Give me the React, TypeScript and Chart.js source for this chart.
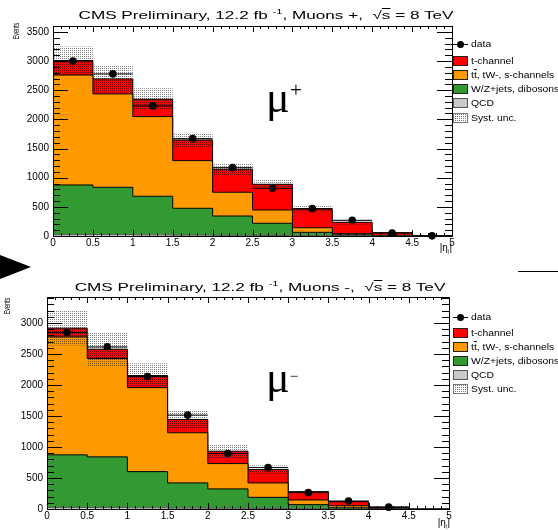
import React, { useEffect, useRef } from "react";
import { Chart, registerables } from "chart.js";

Chart.register(...registerables);

// ---------- data ----------
const binEdges = [0, 0.5, 1, 1.5, 2, 2.5, 3, 3.5, 4, 4.5, 5];
const xTickStep = 0.5;

// muons +
const qcdPlus = [25, 25, 20, 15, 12, 10, 5, 2, 1, 0];
const wzPlus = [850, 810, 661, 460, 331, 208, 58, 18, 4, 0];
const ttPlus = [1885, 1601, 1366, 817, 407, 228, 79, 20, 5, 0];
const tchPlus = [247, 257, 298, 355, 394, 441, 321, 195, 47, 0];
const systPlus = [240, 235, 188, 125, 103, 73, 57, 39, 6, 0];
const dataPlus: (number | null)[] = [3000, 2779, 2230, 1669, 1172, 818, 470, 269, 51, 3];
const yMaxPlus = 3600;
const yTicksPlus = [0, 500, 1000, 1500, 2000, 2500, 3000, 3500];

// muons -
const qcdMinus = [25, 25, 20, 15, 12, 10, 5, 2, 1, 0];
const wzMinus = [849, 816, 583, 406, 312, 178, 65, 18, 4, 0];
const ttMinus = [1903, 1586, 1355, 809, 409, 233, 76, 33, 7, 0];
const tchMinus = [140, 151, 194, 215, 199, 215, 134, 65, 20, 0];
const systMinus = [280, 270, 199, 146, 108, 69, 20, 10, 3, 0];
const dataMinus: (number | null)[] = [2848, 2615, 2136, 1515, 895, 668, 264, 129, 30, null];
const yMaxMinus = 3420;
const yTicksMinus = [0, 500, 1000, 1500, 2000, 2500, 3000];

const legendLabels = ["data", "t-channel", "tt, tW-, s-channels", "W/Z+jets, dibosons", "QCD", "Syst. unc."];

const COL = { tch: "#ff0000", tt: "#ff9900", wz: "#339933", qcd: "#c8c8c8" };
const SANS = '"Liberation Sans", Arial, sans-serif';
const SERIF = '"Liberation Serif", "Times New Roman", serif';

function dotPattern(): CanvasPattern {
  const c = document.createElement("canvas");
  c.width = 2;
  c.height = 2;
  const g = c.getContext("2d")!;
  g.fillStyle = "rgba(0,0,0,0.5)";
  g.fillRect(0, 0, 1, 1);
  return g.createPattern(c, "repeat")!;
}

const rootFrame = {
  id: "rootFrame",
  afterDraw(chart: any) {
    const { ctx, chartArea: a, scales } = chart;
    const x = scales.x;
    const y = scales.y;
    ctx.save();
    ctx.strokeStyle = "#000";
    ctx.lineWidth = 1;
    ctx.beginPath();
    const k0 = Math.round(x.min * 10);
    const k1 = Math.round(x.max * 10);
    for (let k = k0; k <= k1; k++) {
      const px = Math.round(x.getPixelForValue(k / 10)) + 0.5;
      const len = k % 5 === 0 ? 6 : 3;
      ctx.moveTo(px, a.bottom);
      ctx.lineTo(px, a.bottom - len);
      ctx.moveTo(px, a.top);
      ctx.lineTo(px, a.top + len);
    }
    for (let v = 0; v <= y.max; v += 100) {
      const py = Math.round(y.getPixelForValue(v)) + 0.5;
      const len = v % 500 === 0 ? 15 : 7;
      ctx.moveTo(a.left, py);
      ctx.lineTo(a.left + len, py);
      ctx.moveTo(a.right, py);
      ctx.lineTo(a.right - len, py);
    }
    ctx.stroke();
    ctx.strokeRect(Math.round(a.left) + 0.5, Math.round(a.top) + 0.5, Math.round(a.right - a.left), Math.round(a.bottom - a.top));
    ctx.restore();
  },
};

type HistProps = {
  qcd: number[];
  wz: number[];
  tt: number[];
  tch: number[];
  syst: number[];
  data: (number | null)[];
  yMax: number;
  yTicks: number[];
  axisWidth: number;
  padding: { left: number; top: number; right: number; bottom: number };
  top: number;
};

function HistPanel(p: HistProps) {
  const ref = useRef<HTMLCanvasElement>(null);
  useEffect(() => {
    const stepPts = (vals: number[]) =>
      binEdges.map((e, i) => ({ x: e, y: vals[Math.min(i, vals.length - 1)] }));
    const total = p.tch.map((_, i) => p.qcd[i] + p.wz[i] + p.tt[i] + p.tch[i]);
    const lo = total.map((t, i) => t - p.syst[i]);
    const hi = total.map((t, i) => t + p.syst[i]);
    const dataPts = p.data.map((d, i) => ({ x: (binEdges[i] + binEdges[i + 1]) / 2, y: d }));
    const errPts: { x: number; y: number | null }[] = [];
    p.data.forEach((d, i) => {
      if (d == null) return;
      errPts.push({ x: binEdges[i], y: d }, { x: binEdges[i + 1], y: d }, { x: binEdges[i + 1], y: null });
    });
    const comps = [
      { label: "QCD", vals: p.qcd, color: COL.qcd, line: "#555" },
      { label: "W/Z+jets, dibosons", vals: p.wz, color: COL.wz, line: "#000" },
      { label: "tt, tW-, s-channels", vals: p.tt, color: COL.tt, line: "#000" },
      { label: "t-channel", vals: p.tch, color: COL.tch, line: "#000" },
    ];
    const datasets: any[] = comps.map((c, i) => ({
      label: c.label,
      data: stepPts(c.vals),
      stepped: true,
      fill: i === 0 ? "origin" : "-1",
      backgroundColor: c.color,
      borderColor: c.line,
      borderWidth: 1,
      pointRadius: 0,
      stack: "mc",
      order: 4,
    }));
    datasets.push({
      label: "syst-lo",
      data: stepPts(lo),
      stepped: true,
      fill: false,
      borderColor: "transparent",
      borderWidth: 1,
      pointRadius: 0,
      stack: "lo",
      order: 2,
    });
    datasets.push({
      label: "Syst. unc.",
      data: stepPts(hi),
      stepped: true,
      fill: "-1",
      backgroundColor: dotPattern(),
      borderColor: "transparent",
      borderWidth: 1,
      pointRadius: 0,
      stack: "hi",
      order: 2,
    });
    datasets.push({
      label: "data-err",
      data: errPts,
      fill: false,
      spanGaps: false,
      borderColor: "#000",
      borderWidth: 1,
      pointRadius: 0,
      stack: "err",
      order: 1,
      clip: false,
    });
    datasets.push({
      label: "data",
      data: dataPts,
      showLine: false,
      fill: false,
      pointRadius: 3.8,
      pointBackgroundColor: "#000",
      pointBorderColor: "#000",
      pointBorderWidth: 0,
      stack: "data",
      order: 0,
      clip: false,
    });

    const chart = new Chart(ref.current!, {
      type: "line",
      data: { datasets },
      options: {
        animation: false,
        responsive: false,
        maintainAspectRatio: false,
        events: [],
        layout: { padding: p.padding },
        plugins: { legend: { display: false }, title: { display: false }, tooltip: { enabled: false } },
        scales: {
          x: {
            type: "linear",
            min: 0,
            max: 5,
            offset: false,
            grid: { display: false, drawTicks: false },
            border: { display: false },
            ticks: {
              stepSize: xTickStep,
              autoSkip: false,
              maxRotation: 0,
              padding: 1,
              color: "#000",
              font: { family: SANS, size: 10 },
              callback: (v: any) => String(v),
            },
            afterFit: (s: any) => {
              s.height = 20;
            },
          },
          y: {
            type: "linear",
            stacked: true,
            min: 0,
            max: p.yMax,
            grid: { display: false, drawTicks: false },
            border: { display: false },
            ticks: {
              autoSkip: false,
              padding: 4,
              color: "#000",
              font: { family: SANS, size: 10 },
              callback: (v: any) => String(v),
            },
            afterBuildTicks: (s: any) => {
              s.ticks = p.yTicks.map((v) => ({ value: v }));
            },
            afterFit: (s: any) => {
              s.width = p.axisWidth;
            },
          },
        },
      } as any,
      plugins: [rootFrame],
    });
    return () => chart.destroy();
  }, []);
  return (
    <canvas
      ref={ref}
      width={558}
      height={265}
      style={{ position: "absolute", left: 0, top: p.top, width: 558, height: 265 }}
    />
  );
}

function Title({ cx, top, sign }: { cx: number; top: number; sign: string }) {
  return (
    <div
      style={{
        position: "absolute",
        left: cx,
        top,
        transform: "translateX(-50%) scaleX(1.49)",
        transformOrigin: "center",
        whiteSpace: "nowrap",
        font: `11.5px ${SANS}`,
        lineHeight: 1,
        color: "#000",
      }}
    >
      CMS Preliminary, 12.2 fb{" "}
      <span style={{ fontSize: "7.5px", position: "relative", top: -5 }}>-1</span>, Muons {sign},&nbsp; √
      <span style={{ textDecoration: "overline" }}>s</span> = 8 TeV
    </div>
  );
}

function Legend({ rows }: { rows: number[] }) {
  const box = (y: number, bg: string, extra: any = {}) => (
    <div
      style={{
        position: "absolute",
        left: 453,
        top: y - 5,
        width: 15,
        height: 10,
        boxSizing: "border-box",
        border: "1px solid #222",
        background: bg,
        ...extra,
      }}
    />
  );
  const text = (y: number, content: any) => (
    <div
      style={{
        position: "absolute",
        left: 471,
        top: y - 5,
        font: `9px ${SANS}`,
        lineHeight: "10px",
        whiteSpace: "nowrap",
        transform: "scaleX(1.15)",
        transformOrigin: "left center",
        color: "#000",
      }}
    >
      {content}
    </div>
  );
  return (
    <>
      <div style={{ position: "absolute", left: 453, top: rows[0], width: 15, height: 1, background: "#000" }} />
      <div
        style={{
          position: "absolute",
          left: 457,
          top: rows[0] - 3,
          width: 7,
          height: 7,
          borderRadius: "50%",
          background: "#000",
        }}
      />
      {text(rows[0], legendLabels[0])}
      {box(rows[1], COL.tch)}
      {text(rows[1], legendLabels[1])}
      {box(rows[2], COL.tt)}
      {text(
        rows[2],
        <>
          t<span style={{ textDecoration: "overline" }}>t</span>, tW-, s-channels
        </>
      )}
      {box(rows[3], COL.wz)}
      {text(rows[3], legendLabels[3])}
      {box(rows[4], COL.qcd, { border: "1px solid #555" })}
      {text(rows[4], legendLabels[4])}
      {box(rows[5], "#fff", {
        border: "1px solid #777",
        backgroundImage: "conic-gradient(#777 0 25%, transparent 0)",
        backgroundSize: "2px 2px",
      })}
      {text(rows[5], legendLabels[5])}
    </>
  );
}

function EventsLabel({ cx, cy }: { cx: number; cy: number }) {
  return (
    <div
      style={{
        position: "absolute",
        left: cx,
        top: cy,
        transform: "translate(-50%, -50%) rotate(-90deg) scaleX(0.6)",
        font: `9px ${SANS}`,
        lineHeight: 1,
        whiteSpace: "nowrap",
        color: "#000",
      }}
    >
      Events
    </div>
  );
}

function EtaLabel({ right, top }: { right: number; top: number }) {
  return (
    <div
      style={{
        position: "absolute",
        right: 558 - right,
        top,
        font: `10px ${SANS}`,
        lineHeight: 1,
        whiteSpace: "nowrap",
        color: "#000",
      }}
    >
      |η<span style={{ fontSize: "6.5px", position: "relative", top: 3, color: "#555" }}>l</span>|
    </div>
  );
}

export default function App() {
  return (
    <div
      style={{
        position: "absolute",
        left: 0,
        top: 0,
        width: 558,
        height: 530,
        overflow: "hidden",
        background: "#fff",
      }}
    >
      <HistPanel
        qcd={qcdPlus}
        wz={wzPlus}
        tt={ttPlus}
        tch={tchPlus}
        syst={systPlus}
        data={dataPlus}
        yMax={yMaxPlus}
        yTicks={yTicksPlus}
        axisWidth={53}
        padding={{ left: 0, top: 26, right: 106, bottom: 9 }}
        top={0}
      />
      <HistPanel
        qcd={qcdMinus}
        wz={wzMinus}
        tt={ttMinus}
        tch={tchMinus}
        syst={systMinus}
        data={dataMinus}
        yMax={yMaxMinus}
        yTicks={yTicksMinus}
        axisWidth={47}
        padding={{ left: 0, top: 32, right: 109, bottom: 1 }}
        top={265}
      />
      <Title cx={265.5} top={10} sign="+" />
      <Title cx={260} top={281.5} sign="-" />
      <Legend rows={[44, 60.5, 74.5, 88.5, 103, 117.5]} />
      <Legend rows={[317.3, 332.5, 346.5, 360.5, 375, 389]} />
      <EventsLabel cx={15.5} cy={31} />
      <EventsLabel cx={7} cy={306} />
      <EtaLabel right={452} top={243} />
      <EtaLabel right={450} top={518} />
      {/* mu labels */}
      <div style={{ position: "absolute", left: 266, top: 75.9, font: `44px ${SERIF}`, lineHeight: 1 }}>μ</div>
      <div style={{ position: "absolute", left: 290, top: 80.2, font: `21px ${SERIF}`, lineHeight: 1 }}>+</div>
      <div style={{ position: "absolute", left: 266, top: 356.4, font: `44px ${SERIF}`, lineHeight: 1 }}>μ</div>
      <div style={{ position: "absolute", left: 289.8, top: 368.9, font: `15px ${SERIF}`, lineHeight: 1 }}>−</div>
      {/* slide decorations */}
      <div
        style={{
          position: "absolute",
          left: 0,
          top: 255,
          width: 0,
          height: 0,
          borderTop: "12px solid transparent",
          borderBottom: "12px solid transparent",
          borderLeft: "31px solid #000",
        }}
      />
      <div style={{ position: "absolute", left: 518, top: 271, width: 40, height: 1, background: "#000" }} />
    </div>
  );
}
